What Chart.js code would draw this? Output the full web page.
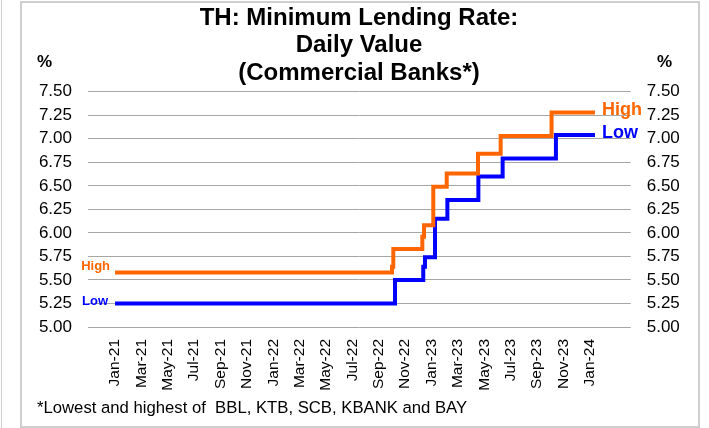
<!DOCTYPE html>
<html>
<head>
<meta charset="utf-8">
<script src="https://cdn.jsdelivr.net/npm/chart.js@4.4.1/dist/chart.umd.min.js"></script>
<style>
  html, body { margin: 0; padding: 0; background: #fff; }
  #wrap { position: relative; width: 709px; height: 428px; overflow: hidden; }
  #edge { position: absolute; left: 1px; top: 0; width: 1px; height: 428px; background: #cfcfcf; }
  #frame { position: absolute; left: 20px; top: 1px; width: 676px; height: 423px; border: 2px solid #cfcfcf; }
  canvas { position: absolute; left: 0; top: 0; }
</style>
</head>
<body>
<div id="wrap">
  <div id="edge"></div>
  <div id="frame"></div>
  <canvas id="chart" width="709" height="428"></canvas>
</div>
<script>
// x values are months counted from 1 Jan 2021
const xLabels = ["Jan-21", "Mar-21", "May-21", "Jul-21", "Sep-21", "Nov-21", "Jan-22", "Mar-22", "May-22",
    "Jul-22", "Sep-22", "Nov-22", "Jan-23", "Mar-23", "May-23", "Jul-23", "Sep-23", "Nov-23", "Jan-24"]
const tickMonths = xLabels.map((_, i) => i * 2)

// Rate changes (month, new value)
const highMonths = [0, 21.0, 21.1, 23.3, 23.43, 24.13, 25.15, 27.52, 29.24, 33.1, 36.39]
const highValues = [5.58, 5.64, 5.83, 5.96, 6.08, 6.49, 6.63, 6.84, 7.03, 7.28, 7.28]
const lowMonths = [0, 21.23, 23.37, 23.5, 24.26, 25.2, 27.55, 29.39, 33.43, 36.39]
const lowValues = [5.25, 5.50, 5.64, 5.74, 6.15, 6.35, 6.60, 6.79, 7.04, 7.04]

const footnote = "*Lowest and highest of  BBL, KTB, SCB, KBANK and BAY"
const font = "'Liberation Sans', Arial, sans-serif"

const orange = "#ff6600"
const blue = "#0000ff"

// Series names at both ends of the lines, % units and footnote
const extraText = {
    id: "extraText",
    afterDatasetsDraw(chart) {
        const ctx = chart.ctx
        ctx.save()
        ctx.textBaseline = "middle"

        const ends = [
            { ds: 0, name: "High", color: orange, leftDy: -6, leftDx: -5, rightDy: -2 },
            { ds: 1, name: "Low", color: blue, leftDy: -2, leftDx: -7, rightDy: -2 }
        ]
        for (let e of ends) {
            const pts = chart.getDatasetMeta(e.ds).data
            const first = pts[0]
            const last = pts[pts.length - 1]
            ctx.fillStyle = e.color
            ctx.font = `bold 13px ${font}`
            ctx.textAlign = "right"
            ctx.fillText(e.name, first.x + e.leftDx, first.y + e.leftDy)
            ctx.font = `bold 18px ${font}`
            ctx.textAlign = "left"
            ctx.fillText(e.name, last.x + 7, last.y + e.rightDy)
        }

        ctx.fillStyle = "#000"
        ctx.font = `bold 17px ${font}`
        ctx.textAlign = "left"
        ctx.fillText("%", 37, 62)
        ctx.fillText("%", 657, 62)

        ctx.font = `16.7px ${font}`
        ctx.fillText(footnote, 37, 408)
        ctx.restore()
    }
}

const yTicks = {
    stepSize: 0.25,
    padding: 16,
    color: "#000",
    font: { family: font, size: 17 },
    callback: v => v.toFixed(2)
}

new Chart(document.getElementById("chart"), {
    type: "line",
    data: {
        datasets: [
            {
                label: "High",
                data: highMonths.map((m, i) => ({ x: m, y: highValues[i] })),
                borderColor: orange,
                borderWidth: 4,
                stepped: "before",
                pointRadius: 0,
                yAxisID: "y"
            },
            {
                label: "Low",
                data: lowMonths.map((m, i) => ({ x: m, y: lowValues[i] })),
                borderColor: blue,
                borderWidth: 4,
                stepped: "before",
                pointRadius: 0,
                yAxisID: "y"
            }
        ]
    },
    options: {
        responsive: false,
        animation: false,
        layout: { padding: { top: 0, left: 9, right: 0, bottom: 36 } },
        plugins: {
            legend: { display: false },
            tooltip: { enabled: false },
            title: {
                display: true,
                text: ["TH: Minimum Lending Rate:", "Daily Value", "(Commercial Banks*)"],
                color: "#000",
                font: { family: font, size: 24, weight: "bold", lineHeight: 1.146 },
                padding: { top: 4.5, bottom: 4.7 }
            }
        },
        scales: {
            x: {
                type: "linear",
                min: -2.05,
                max: 39.1,
                grid: { display: false },
                border: { display: false },
                afterBuildTicks: s => { s.ticks = tickMonths.map(v => ({ value: v })) },
                afterFit: s => { s.height = 65 },
                ticks: {
                    autoSkip: false,
                    minRotation: 90,
                    maxRotation: 90,
                    padding: 4,
                    color: "#000",
                    font: { family: font, size: 15.5 },
                    callback: (v, i) => xLabels[i]
                }
            },
            y: {
                position: "left",
                min: 5,
                max: 7.5,
                afterFit: s => { s.width = 79 },
                grid: { color: "#a6a6a6", lineWidth: 1, drawTicks: false },
                border: { display: false },
                ticks: yTicks
            },
            y2: {
                position: "right",
                min: 5,
                max: 7.5,
                afterFit: s => { s.width = 78.3 },
                grid: { display: false, drawTicks: false },
                border: { display: false },
                ticks: yTicks
            }
        }
    },
    plugins: [extraText]
})
</script>
</body>
</html>
